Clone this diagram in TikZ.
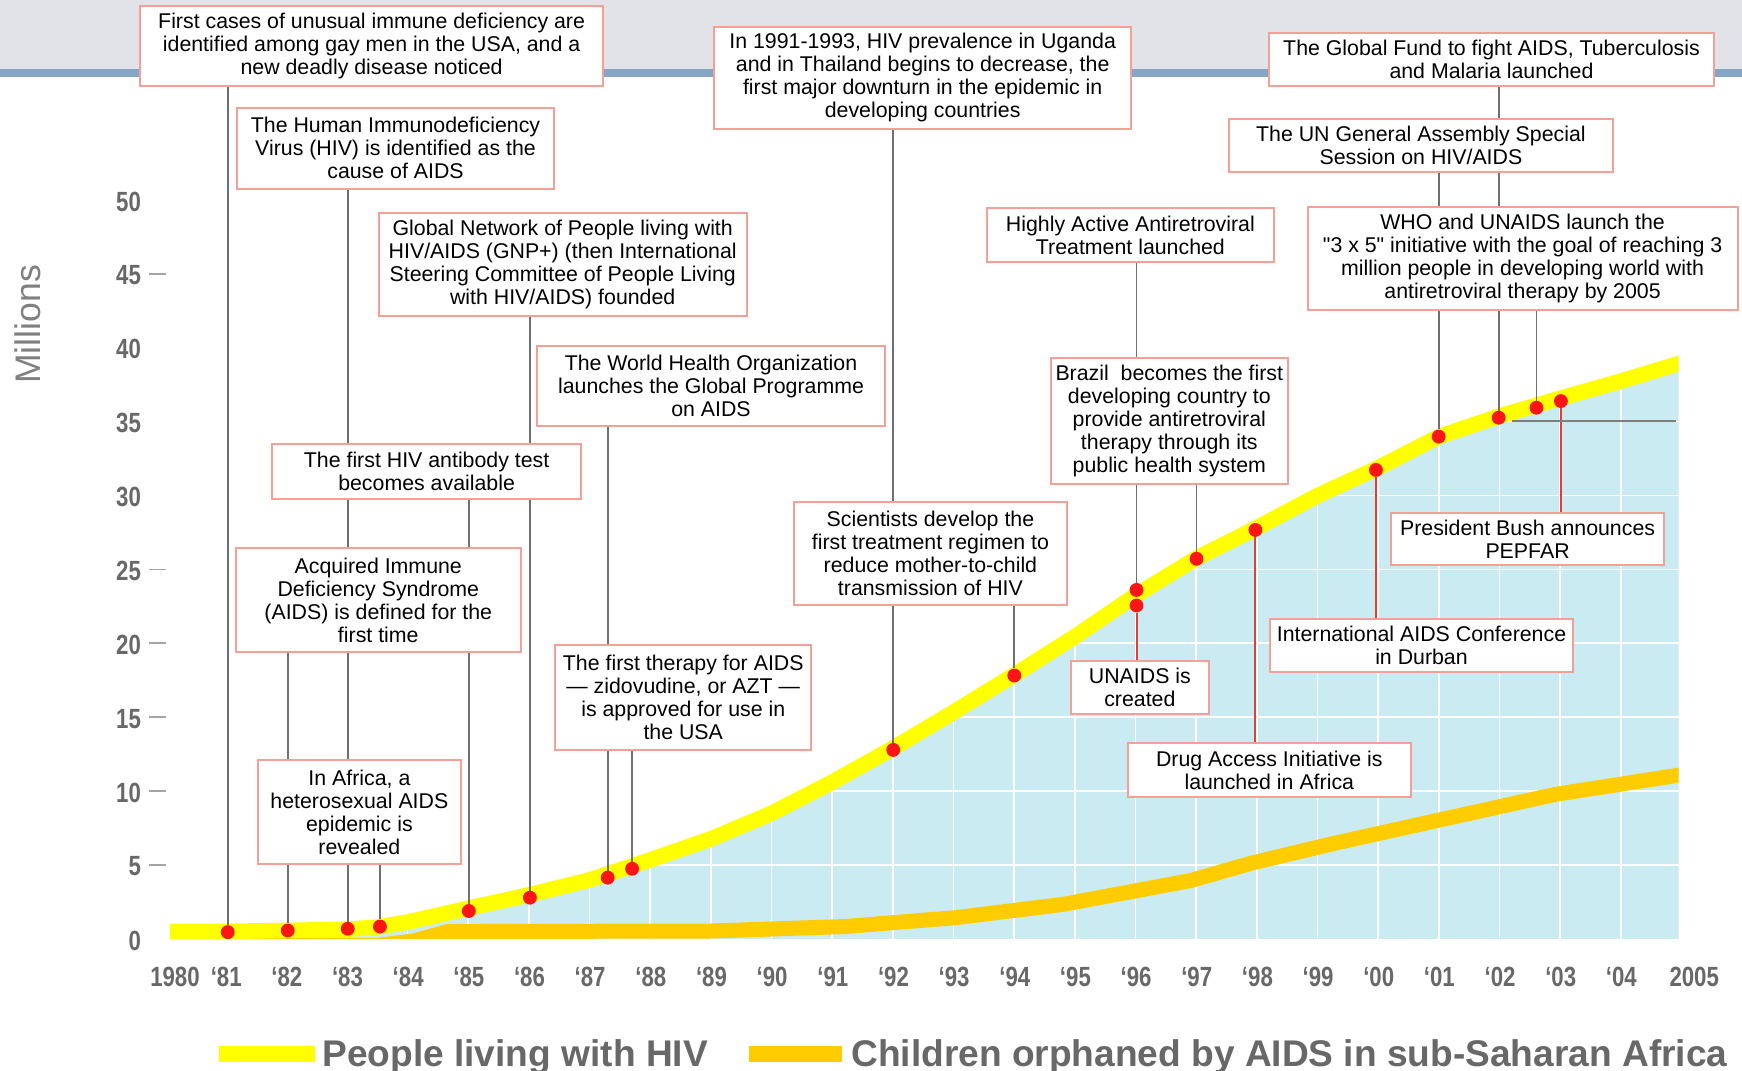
\documentclass[tikz,border=0pt]{standalone}
\usepackage{fontspec}
\setmainfont{Liberation Sans}
\newfontfamily\axisfont{Liberation Sans}[UprightFont={* Bold}, FakeStretch=0.8]
\pgfdeclarelayer{back}
\pgfdeclarelayer{lines}
\pgfsetlayers{back,lines,main}
\definecolor{topgrey}{RGB}{225,227,232}
\definecolor{bandblue}{RGB}{133,166,198}
\definecolor{areablue}{RGB}{203,235,243}
\definecolor{hivyellow}{RGB}{255,255,0}
\definecolor{orphorange}{RGB}{255,204,0}
\definecolor{dotred}{RGB}{250,22,22}
\definecolor{connred}{RGB}{232,60,52}
\definecolor{conngrey}{RGB}{112,112,112}
\definecolor{boxred}{RGB}{244,160,150}
\definecolor{axisgrey}{RGB}{104,104,104}
\definecolor{tickgrey}{RGB}{165,165,165}
\definecolor{millgrey}{RGB}{128,128,128}
\newcommand\dq{\XeTeXglyph\XeTeXcharglyph"22\relax}
\newcommand\hivpts{(140,838.5) -- (203,838.3) -- (257.7,837.5) -- (312.3,836.5) -- (339.6,834.5) -- (366.9,830) -- (421.5,817.5) -- (476,805.5) -- (530.7,792) -- (585.3,774) -- (640,755) -- (694.5,732) -- (749,704) -- (803.7,673.5) -- (858.3,641) -- (912.9,607.5) -- (967.5,573) -- (1022,536) -- (1076.7,502.5) -- (1131.3,475) -- (1186,446) -- (1240.5,421) -- (1295,393) -- (1349.7,374.5) -- (1404.3,358.5) -- (1459,343) -- (1525,323)}
\newcommand\orphpts{(140,851) -- (340,851) -- (372,847) -- (403,838.5) -- (640,838) -- (760,834) -- (860,826) -- (957,814) -- (1072,792.5) -- (1126,777) -- (1197,760) -- (1296,738) -- (1400,715) -- (1525,695.5)}
\begin{document}
\begin{tikzpicture}[x=1pt,y=-1pt,
  box/.style={draw=boxred, line width=1.8pt, fill=white, align=center, inner sep=0pt, font=\fontsize{19.2pt}{20.7pt}\selectfont},
  conn/.style={draw=conngrey, line width=1.6pt},
  rconn/.style={draw=connred, line width=1.8pt},
  dot/.style={circle, fill=dotred, inner sep=0pt, minimum size=12.5pt},
  ylab/.style={anchor=east, inner sep=0pt, text=axisgrey, font=\axisfont\fontsize{25pt}{25pt}\selectfont},
  xlab/.style={anchor=center, inner sep=0pt, text=axisgrey, font=\axisfont\fontsize{25pt}{25pt}\selectfont},
  ytick/.style={draw=tickgrey, line width=1.5pt},
  gridline/.style={draw=white, line width=1.5pt},
  legtext/.style={anchor=base west, inner sep=0pt, text=axisgrey, font=\bfseries\fontsize{33.4pt}{33.4pt}\selectfont},
  swatch/.style={minimum width=86pt, minimum height=14pt, inner sep=0pt}
]
\useasboundingbox (0,0) rectangle (1568,964);
\begin{pgfonlayer}{back}
\fill[white] (0,0) rectangle (1568,964);
\fill[topgrey] (0,0) rectangle (1568,62);
\fill[bandblue] (0,62) rectangle (1568,69);
\begin{scope}
  \clip (153,0) rectangle (1511,845);
  \fill[areablue] \hivpts -- (1525,845) -- (140,845) -- cycle;
  \begin{scope}
    \clip \hivpts -- (1525,845) -- (140,845) -- cycle;
    \foreach \i in {1,...,24} \draw[gridline] ({148.5+54.6*\i},300) -- ({148.5+54.6*\i},845);
    \foreach \v in {1,...,7} \draw[gridline] (140,{845-66.5*\v}) -- (1525,{845-66.5*\v});
  \end{scope}
  \draw[orphorange, line width=13.5pt, line join=round] \orphpts;
  \draw[hivyellow, line width=14pt, line join=round] \hivpts;
\end{scope}
\end{pgfonlayer}

% axis
\node[rotate=90, inner sep=0pt, text=millgrey, font=\fontsize{32pt}{32pt}\selectfont] (mil) at (25,292) {Millions};
\foreach \v in {0,5,...,50} \node[ylab] (y\v) at (127,{846.5-13.3*\v}) {\v};
\foreach \v in {5,10,15,20,25,45} \draw[ytick] (134,{845-13.3*\v}) -- (149.5,{845-13.3*\v});
\node[xlab] (x0) at (157.5,879.5) {1980};
\foreach \lab [count=\i] in {81,82,83,84,85,86,87,88,89,90,91,92,93,94,95,96,97,98,99,00,01,02,03,04}
  \node[xlab] (x\i) at ({148.5+54.6*\i+0.5},879.5) {‘\lab};
\node[xlab] (x25) at (1525,879.5) {2005};

% dots
\node[dot] (d81) at (205,839) {};
\node[dot] (d82) at (259,837.5) {};
\node[dot] (d83) at (313,836) {};
\node[dot] (d83b) at (342,834) {};
\node[dot] (d85) at (422,820) {};
\node[dot] (d86) at (477,808) {};
\node[dot] (d87a) at (547,790) {};
\node[dot] (d87b) at (569,782) {};
\node[dot] (d92) at (804,675) {};
\node[dot] (d94) at (913,608) {};
\node[dot] (d96a) at (1023,531) {};
\node[dot] (d96b) at (1023,545) {};
\node[dot] (d97) at (1077,503) {};
\node[dot] (d98) at (1130,477) {};
\node[dot] (d00) at (1238.5,423) {};
\node[dot] (d01) at (1295,393) {};
\node[dot] (d02) at (1349,376) {};
\node[dot] (d02b) at (1383,367) {};
\node[dot] (d03) at (1405,361) {};

% boxes
\node[box, minimum width=417, minimum height=72] (b1) at (334.5,41) {First cases of unusual immune deficiency are\\identified among gay men in the USA, and a\\new deadly disease noticed};
\node[box, minimum width=286, minimum height=73] (b2) at (356,133.5) {The Human Immunodeficiency\\Virus (HIV) is identified as the\\cause of AIDS};
\node[box, minimum width=331, minimum height=92] (b3) at (506.5,238) {Global Network of People living with\\HIV/AIDS (GNP+) (then International\\Steering Committee of People Living\\with HIV/AIDS) founded};
\node[box, minimum width=314, minimum height=72] (b4) at (640,347) {The World Health Organization\\launches the Global Programme\\on AIDS};
\node[box, minimum width=278, minimum height=49] (b5) at (384,424.5) {The first HIV antibody test\\becomes available};
\node[box, minimum width=257, minimum height=94] (b6) at (340.5,540) {Acquired Immune\\Deficiency Syndrome\\(AIDS) is defined for the\\first time};
\node[box, minimum width=183, minimum height=94] (b7) at (323.5,731) {In Africa, a\\heterosexual AIDS\\epidemic is\\revealed};
\node[box, minimum width=375, minimum height=92] (b8) at (830.5,70) {In 1991-1993, HIV prevalence in Uganda\\and in Thailand begins to decrease, the\\first major downturn in the epidemic in\\developing countries};
\node[box, minimum width=245, minimum height=93] (b9) at (837.5,498.5) {Scientists develop the\\first treatment regimen to\\reduce mother-to-child\\transmission of HIV};
\node[box, minimum width=230, minimum height=94] (b10) at (615,628) {The first therapy for AIDS\\— zidovudine, or AZT —\\is approved for use in\\the USA};
\node[box, minimum width=259, minimum height=49] (b11) at (1017.5,211.5) {Highly Active Antiretroviral\\Treatment launched};
\node[box, minimum width=213, minimum height=114] (b12) at (1052.5,379) {Brazil\ \ becomes the first\\developing country to\\provide antiretroviral\\therapy through its\\public health system};
\node[box, minimum width=124, minimum height=48] (b13) at (1026,619) {UNAIDS is\\created};
\node[box, minimum width=255, minimum height=48] (b14) at (1142.5,693) {Drug Access Initiative is\\launched in Africa};
\node[box, minimum width=273, minimum height=48] (b15) at (1279.5,581) {International AIDS Conference\\in Durban};
\node[box, minimum width=246, minimum height=47] (b16) at (1375,485.5) {President Bush announces\\PEPFAR};
\node[box, minimum width=401, minimum height=47] (b17) at (1342.5,53.5) {The Global Fund to fight AIDS, Tuberculosis\\and Malaria launched};
\node[box, minimum width=346, minimum height=48] (b18) at (1279,131) {The UN General Assembly Special\\Session on HIV/AIDS};
\node[box, minimum width=387, minimum height=93] (b19) at (1370.5,232.5) {WHO and UNAIDS launch the\\\dq 3 x 5\dq{} initiative with the goal of reaching 3\\million people in developing world with\\antiretroviral therapy by 2005};

% connectors
\begin{pgfonlayer}{lines}
\draw[conn] (d81) -- (d81 |- b1.south);
\draw[conn] (d83) -- (d83 |- b2.south);
\draw[conn] (d86) -- (d86 |- b3.south);
\draw[conn] (d87a) -- (d87a |- b4.south);
\draw[conn] (d85) -- (d85 |- b5.south);
\draw[conn] (d82) -- (d82 |- b6.south);
\draw[conn] (d83b) -- (d83b |- b7.south);
\draw[conn] (d92) -- (d92 |- b8.south);
\draw[conn] (d94) -- (d94 |- b9.south);
\draw[conn] (d87b) -- (d87b |- b10.south);
\draw[conn] (d96a) -- (d96a |- b11.south);
\draw[conn] (d97) -- (d97 |- b12.south);
\draw[conn] (d02) -- (d02 |- b17.south);
\draw[conn] (d01) -- (d01 |- b18.south);
\draw[conn] (d02b) -- (d02b |- b19.south);
\draw[rconn] (d96b) -- (d96b |- b13.north);
\draw[rconn] (d98) -- (d98 |- b14.north);
\draw[rconn] (d00) -- (d00 |- b15.north);
\draw[rconn] (d03) -- (d03 |- b16.north);
\coordinate (hl1) at (1360.6,379);
\coordinate (hl2) at (1509,379);
\draw[conn, line width=2pt, draw=conngrey!90] (hl1) -- (hl2);
\end{pgfonlayer}

% legend
\node[swatch, fill=hivyellow] (sw1) at (240.25,948.5) {};
\node[legtext] (lt1) at (290,960) {People living with HIV};
\node[swatch, fill=orphorange, minimum width=84pt] (sw2) at (716,948.5) {};
\node[legtext] (lt2) at (766,960) {Children orphaned by AIDS in sub-Saharan Africa};
\end{tikzpicture}
\end{document}
